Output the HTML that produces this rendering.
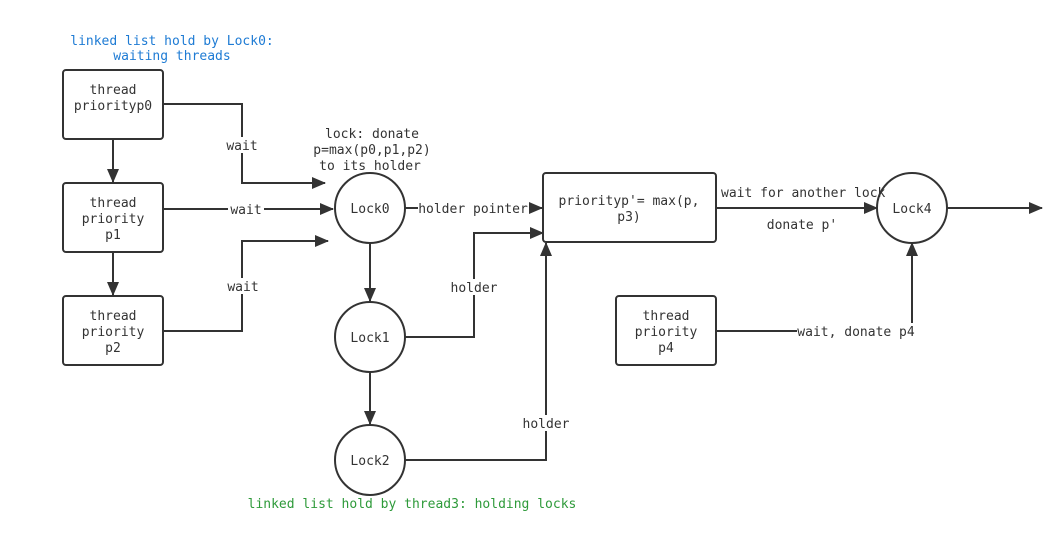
<!DOCTYPE html>
<html><head><meta charset="utf-8"><style>
html,body{margin:0;padding:0;background:#fff;}
svg text{font-family:"DejaVu Sans Mono","Liberation Mono",monospace;font-size:13px;fill:#333;}
</style></head><body>
<svg width="1062" height="546" viewBox="0 0 1062 546" xmlns="http://www.w3.org/2000/svg">
<defs>
<marker id="a" markerWidth="10" markerHeight="10" refX="9" refY="5" orient="auto" markerUnits="userSpaceOnUse">
<path d="M0,0 L10,5 L0,10 z" fill="#333"/>
</marker>
<marker id="b" markerWidth="14" markerHeight="12" refX="13" refY="6" orient="auto" markerUnits="userSpaceOnUse">
<path d="M0,0 L14,6 L0,12 z" fill="#333"/>
</marker>
</defs>
<g fill="none" stroke="#333" stroke-width="2">
<rect x="63" y="70" width="100" height="69" rx="3"/>
<rect x="63" y="183" width="100" height="69" rx="3"/>
<rect x="63" y="296" width="100" height="69" rx="3"/>
<rect x="543" y="173" width="173" height="69" rx="3"/>
<rect x="616" y="296" width="100" height="69" rx="3"/>
<circle cx="370" cy="208" r="35"/>
<circle cx="370" cy="337" r="35"/>
<circle cx="370" cy="460" r="35"/>
<circle cx="912" cy="208" r="35"/>
<path d="M113,139 V182" marker-end="url(#b)"/>
<path d="M113,252 V295" marker-end="url(#b)"/>
<path d="M163,104 H242 V183 H325" marker-end="url(#b)"/>
<path d="M163,209 H333" marker-end="url(#b)"/>
<path d="M163,331 H242 V241 H328" marker-end="url(#b)"/>
<path d="M370,243 V301" marker-end="url(#b)"/>
<path d="M370,372 V424" marker-end="url(#b)"/>
<path d="M405,208 H542" marker-end="url(#b)"/>
<path d="M405,337 H474 V233 H543" marker-end="url(#b)"/>
<path d="M405,460 H546 V243" marker-end="url(#b)"/>
<path d="M716,208 H877" marker-end="url(#b)"/>
<path d="M947,208 H1042" marker-end="url(#b)"/>
<path d="M716,331 H912 V243" marker-end="url(#b)"/>
</g>
<g fill="#fff">
<rect x="225" y="137" width="34" height="16"/>
<rect x="228" y="201" width="36" height="16"/>
<rect x="225" y="278" width="34" height="16"/>
<rect x="418" y="200" width="111" height="16"/>
<rect x="449" y="279" width="50" height="16"/>
<rect x="521" y="415" width="50" height="16"/>
<rect x="797" y="323" width="118" height="16"/>
</g>
<g text-anchor="middle">
<text x="113" y="94">thread</text>
<text x="113" y="110">priorityp0</text>
<text x="113" y="207">thread</text>
<text x="113" y="223">priority</text>
<text x="113" y="239">p1</text>
<text x="113" y="320">thread</text>
<text x="113" y="336">priority</text>
<text x="113" y="352">p2</text>
<text x="666" y="320">thread</text>
<text x="666" y="336">priority</text>
<text x="666" y="352">p4</text>
<text x="629" y="205">priorityp'= max(p,</text>
<text x="629" y="221">p3)</text>
<text x="370" y="213">Lock0</text>
<text x="370" y="342">Lock1</text>
<text x="370" y="465">Lock2</text>
<text x="912" y="213">Lock4</text>
<text x="242" y="150">wait</text>
<text x="246" y="214">wait</text>
<text x="243" y="291">wait</text>
<text x="473" y="213">holder pointer</text>
<text x="474" y="292">holder</text>
<text x="546" y="428">holder</text>
<text x="856" y="336">wait, donate p4</text>
<text x="802" y="229">donate p'</text>
<text x="372" y="138">lock: donate</text>
<text x="372" y="154">p=max(p0,p1,p2)</text>
<text x="370" y="170">to its holder</text>
<text x="172" y="45" style="fill:#1e7bd4">linked list hold by Lock0:</text>
<text x="172" y="60" style="fill:#1e7bd4">waiting threads</text>
<text x="412" y="508" style="fill:#2e9a3a">linked list hold by thread3: holding locks</text>
</g>
<text x="721" y="197">wait for another lock</text>
</svg>
</body></html>
